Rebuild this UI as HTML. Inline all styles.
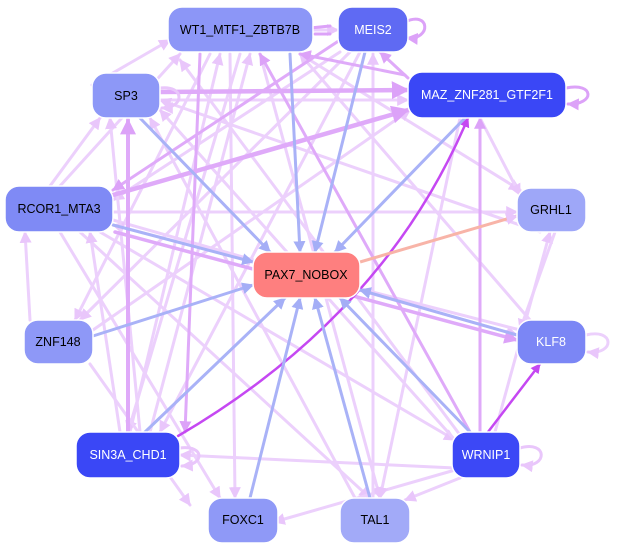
<!DOCTYPE html>
<html><head><meta charset="utf-8"><style>
html,body{margin:0;padding:0;background:#fff;width:619px;height:551px;overflow:hidden}
svg{display:block}
text{font-family:"Liberation Sans",sans-serif;font-size:12.5px;text-anchor:middle;dominant-baseline:central}
</style></head><body>
<svg width="619" height="551" viewBox="0 0 619 551" xmlns="http://www.w3.org/2000/svg">
<defs>
<marker id="mL" viewBox="0 0 10 10" refX="9" refY="5" markerWidth="4" markerHeight="4" orient="auto"><path d="M0,0L10,5L0,10z" fill="#e9c6fb"/></marker>
<marker id="mM" viewBox="0 0 10 10" refX="9" refY="5" markerWidth="4" markerHeight="4" orient="auto"><path d="M0,0L10,5L0,10z" fill="#dca2f8"/></marker>
<marker id="mS" viewBox="0 0 10 10" refX="9" refY="5" markerWidth="4" markerHeight="4" orient="auto"><path d="M0,0L10,5L0,10z" fill="#c548f2"/></marker>
<marker id="mB" viewBox="0 0 10 10" refX="9" refY="5" markerWidth="4" markerHeight="4" orient="auto"><path d="M0,0L10,5L0,10z" fill="#a4aef6"/></marker>
</defs>
<g fill="none" stroke-width="3" stroke-linecap="round">
<g stroke="#ecd0fc" marker-end="url(#mL)">
<line x1="92" y1="85" x2="170" y2="40"/>
<line x1="60" y1="186" x2="180" y2="54"/>
<line x1="80" y1="232" x2="370" y2="498"/>
<line x1="60" y1="232" x2="220" y2="498"/>
<line x1="113" y1="212" x2="517" y2="212"/>
<line x1="113" y1="220" x2="517" y2="335"/>
<line x1="100" y1="232" x2="455" y2="440"/>
<line x1="50" y1="186" x2="100" y2="118"/>
<line x1="130" y1="432" x2="220" y2="54"/>
<line x1="150" y1="432" x2="250" y2="54"/>
<line x1="120" y1="432" x2="90" y2="232"/>
<line x1="455" y1="468" x2="180" y2="455"/>
<line x1="455" y1="470" x2="274" y2="522"/>
<line x1="460" y1="478" x2="405" y2="500"/>
<line x1="495" y1="432" x2="550" y2="232"/>
<line x1="460" y1="435" x2="180" y2="60"/>
<line x1="455" y1="440" x2="160" y2="110"/>
<line x1="240" y1="54" x2="128" y2="432"/>
<line x1="210" y1="54" x2="75" y2="320"/>
<line x1="300" y1="54" x2="520" y2="190"/>
<line x1="230" y1="54" x2="235" y2="498"/>
<line x1="260" y1="54" x2="380" y2="498"/>
<line x1="373" y1="498" x2="373" y2="54"/>
<line x1="355" y1="498" x2="150" y2="118"/>
<line x1="340" y1="52" x2="113" y2="200"/>
<line x1="350" y1="52" x2="80" y2="320"/>
<line x1="360" y1="52" x2="160" y2="432"/>
<line x1="520" y1="330" x2="113" y2="225"/>
<line x1="460" y1="118" x2="380" y2="498"/>
<line x1="93" y1="330" x2="410" y2="110"/>
<line x1="160" y1="100" x2="408" y2="100"/>
<line x1="30" y1="320" x2="25" y2="232"/>
<line x1="90" y1="364" x2="190" y2="505"/>
<line x1="480" y1="118" x2="520" y2="195"/>
<line x1="555" y1="232" x2="520" y2="330"/>
<line x1="313" y1="30" x2="338" y2="30"/>
<line x1="530" y1="320" x2="300" y2="54"/>
<line x1="140" y1="432" x2="110" y2="118"/>
<line x1="540" y1="232" x2="160" y2="100"/>
</g>
<g stroke="#dfaaf9" marker-end="url(#mM)">
<line x1="160" y1="92" x2="408" y2="90" stroke-width="4.5"/>
<line x1="113" y1="195" x2="408" y2="110" stroke-width="4.5"/>
<line x1="128" y1="432" x2="128" y2="120" stroke-width="4"/>
<line x1="200" y1="54" x2="185" y2="432"/>
<line x1="408" y1="78" x2="380" y2="52"/>
<line x1="405" y1="75" x2="300" y2="54"/>
<line x1="340" y1="40" x2="113" y2="190"/>
<line x1="480" y1="432" x2="480" y2="118"/>
<line x1="470" y1="432" x2="260" y2="54"/>
<line x1="115" y1="232" x2="517" y2="340" stroke-width="3.5"/>
</g>
<g stroke="#c548f2" marker-end="url(#mS)">
<path d="M178,436 Q385,315 468,118" stroke-width="2.5"/>
<line x1="488" y1="432" x2="540" y2="364" stroke-width="2.5"/>
</g>
<g stroke="#a9b2f7" marker-end="url(#mB)">
<line x1="140" y1="118" x2="270" y2="252"/>
<line x1="290" y1="54" x2="300" y2="252"/>
<line x1="365" y1="52" x2="315" y2="252"/>
<line x1="465" y1="118" x2="335" y2="252"/>
<line x1="113" y1="225" x2="253" y2="262"/>
<line x1="93" y1="336" x2="253" y2="285"/>
<line x1="517" y1="335" x2="360" y2="290"/>
<line x1="145" y1="432" x2="285" y2="298"/>
<line x1="250" y1="498" x2="300" y2="298"/>
<line x1="370" y1="498" x2="315" y2="298"/>
<line x1="470" y1="432" x2="340" y2="298"/>
</g>
<line x1="360" y1="262" x2="517" y2="216" stroke="#f8b4a8" marker-end="url(#mL)"/>
<path d="M405,22 C430,10 432,40 407,38" stroke="#dca2f8" marker-end="url(#mM)"/>
<path d="M566,88 C595,82 595,105 568,104" stroke="#dca2f8" marker-end="url(#mM)"/>
<path d="M586,335 C615,328 615,355 588,352" stroke="#ecd0fc" marker-end="url(#mL)"/>
<path d="M520,448 C548,440 548,468 522,465" stroke="#e9c6fb" marker-end="url(#mL)"/>
<path d="M180,448 C205,445 205,465 182,466" stroke="#e9c6fb" marker-end="url(#mL)"/>
<path d="M160,88 C185,85 185,108 162,108" stroke="#e9c6fb" marker-end="url(#mL)"/>
<path d="M330,26 L310,28 M330,34 L315,34" stroke="#dca2f8"/>
</g>
<g stroke="#fff" stroke-width="1.5">
<rect x="168" y="7" width="145" height="45" rx="14" fill="#8c96f7"/>
<rect x="338" y="7" width="70" height="45" rx="14" fill="#5f6af3"/>
<rect x="408" y="72" width="158" height="46" rx="14" fill="#3a47f6"/>
<rect x="92" y="73" width="68" height="45" rx="14" fill="#8d98f7"/>
<rect x="5" y="186" width="108" height="46" rx="14" fill="#7f8af5"/>
<rect x="517" y="188" width="69" height="44" rx="14" fill="#9ea7f8"/>
<rect x="253" y="252" width="107" height="46" rx="14" fill="#fe7f7f"/>
<rect x="24" y="320" width="69" height="44" rx="14" fill="#8e98f7"/>
<rect x="517" y="320" width="69" height="44" rx="14" fill="#7b86f5"/>
<rect x="76" y="432" width="104" height="46" rx="14" fill="#3a47f6"/>
<rect x="452" y="432" width="68" height="46" rx="14" fill="#3c48f6"/>
<rect x="208" y="498" width="70" height="45" rx="14" fill="#8f99f7"/>
<rect x="340" y="498" width="70" height="45" rx="14" fill="#a2aaf8"/>
</g>
<g>
<text x="240" y="30" fill="#000">WT1_MTF1_ZBTB7B</text>
<text x="373" y="30" fill="#fff">MEIS2</text>
<text x="487" y="95" fill="#fff">MAZ_ZNF281_GTF2F1</text>
<text x="126" y="96" fill="#000">SP3</text>
<text x="59" y="209" fill="#000">RCOR1_MTA3</text>
<text x="551" y="210" fill="#000">GRHL1</text>
<text x="306" y="275" fill="#000">PAX7_NOBOX</text>
<text x="58" y="342" fill="#000">ZNF148</text>
<text x="551" y="342" fill="#fff">KLF8</text>
<text x="128" y="455" fill="#fff">SIN3A_CHD1</text>
<text x="486" y="455" fill="#fff">WRNIP1</text>
<text x="243" y="520" fill="#000">FOXC1</text>
<text x="375" y="520" fill="#000">TAL1</text>
</g>
</svg>
</body></html>
